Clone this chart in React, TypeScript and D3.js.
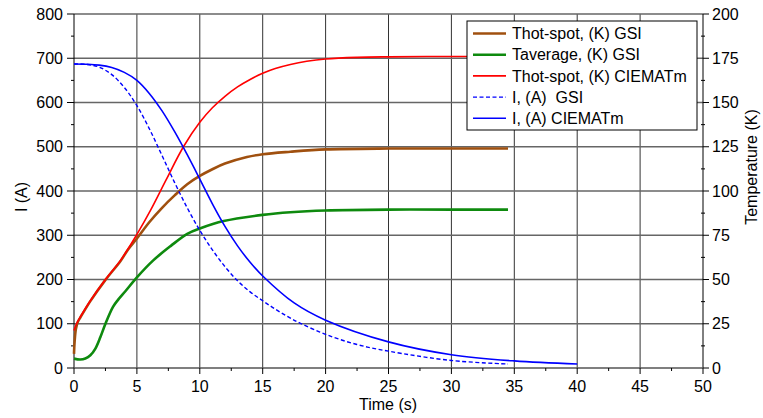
import React from "react";
import * as d3 from "d3";

const W = 763;
const H = 418;

// Temperature series (K), time in s
const tHotGsiT = [0, 0.05, 0.15, 0.3, 0.5, 1.3, 2.5, 3.7, 4.3, 5, 6, 7, 8, 9, 10, 11, 12, 13.75, 15, 17.2, 20, 25, 30, 34.5];
const tHotGsiV = [8, 15, 22, 26, 28.5, 37.8, 49.8, 60.5, 67, 73.2, 82.5, 90.5, 97.5, 103.8, 108.5, 112.3, 115.5, 119.2, 120.8, 122.2, 123.5, 124, 124, 124];

const tAvgGsiT = [0, 0.5, 0.9, 1.3, 1.7, 2.1, 2.5, 3.1, 3.5, 4.1, 5, 6.3, 7.7, 9, 10, 11.9, 15, 17.2, 20, 25, 30, 34.5];
const tAvgGsiV = [5.3, 4.8, 5.4, 7.2, 11, 17.5, 25, 34.5, 38.5, 43.5, 51.2, 60.8, 69, 75.8, 78.8, 83, 86.5, 88, 89, 89.5, 89.5, 89.5];

const tHotCiemT = [0, 0.2, 0.5, 1.3, 2.5, 3.7, 5, 6.1, 7.3, 8.7, 10, 11, 12, 13, 14, 15, 16, 17.2, 18.5, 20, 22.5, 25, 30, 34.5];
const tHotCiemV = [21.2, 25, 28.8, 38, 50, 60.8, 75.5, 89.3, 106, 125, 138.8, 147, 153.5, 158.8, 163, 166.5, 169.2, 171.5, 173.3, 174.6, 175.5, 175.8, 176, 176];

// Current series (A)
const iGsiT = [0, 1, 2, 3, 4, 5, 6, 7, 8, 9, 10, 11, 12, 13, 14, 15, 16, 17, 18, 20, 22.5, 25, 30, 34.5];
const iGsiV = [687, 686, 680, 663, 634, 593, 540, 480, 419, 362, 311, 267, 229, 197, 172, 152, 133, 116, 101, 76, 53, 38, 17, 9];

const iCiemT = [0, 1, 2, 3, 4, 5, 6, 7, 8, 9, 10, 11, 12, 13, 14, 15, 17.5, 20, 25, 30, 35, 40];
const iCiemV = [687, 686.5, 684.5, 679, 668, 650, 620, 581, 534, 482, 427, 371, 320, 276, 239, 208, 147, 108, 59, 30, 16, 9];

const xTicks = [0, 5, 10, 15, 20, 25, 30, 35, 40, 45, 50];
const yLeftTicks = [0, 100, 200, 300, 400, 500, 600, 700, 800];
const yRightTicks = [0, 25, 50, 75, 100, 125, 150, 175, 200];

const legendLabels = [
  "Thot-spot, (K) GSI",
  "Taverage, (K) GSI",
  "Thot-spot, (K) CIEMATm",
  "I, (A)  GSI",
  "I, (A) CIEMATm",
];

const FONT = "'Liberation Sans', Arial, sans-serif";

export default function App() {
  const x = d3.scaleLinear().domain([0, 50]).range([74, 703]);
  const yL = d3.scaleLinear().domain([0, 800]).range([368, 14]);
  const yR = d3.scaleLinear().domain([0, 200]).range([368, 14]);

  const zip = (ts: number[], vs: number[]) => ts.map((t, i) => [t, vs[i]] as [number, number]);

  const curve = d3.curveCatmullRom.alpha(0.5);
  const lineL = d3.line<[number, number]>().x((d) => x(d[0])).y((d) => yL(d[1])).curve(curve);
  const lineR = d3.line<[number, number]>().x((d) => x(d[0])).y((d) => yR(d[1])).curve(curve);

  const series = [
    { d: lineR(zip(tHotGsiT, tHotGsiV)), color: "#A0500F", w: 2.6, dash: undefined },
    { d: lineR(zip(tAvgGsiT, tAvgGsiV)), color: "#0E8A0E", w: 2.6, dash: undefined },
    { d: lineR(zip(tHotCiemT, tHotCiemV)), color: "#FF0000", w: 1.6, dash: undefined },
    { d: lineL(zip(iGsiT, iGsiV)), color: "#0000FF", w: 1.4, dash: "4,2.5" },
    { d: lineL(zip(iCiemT, iCiemV)), color: "#0000FF", w: 1.6, dash: undefined },
  ];

  const xMinor = d3.range(2.5, 50, 5);
  const yLMinor = d3.range(50, 800, 100);

  const legX = 467, legY = 21, legW = 230, legH = 109;

  return (
    <svg width={W} height={H} style={{ position: "absolute", left: 0, top: 0, background: "#fff" }}>
      <rect x={0} y={0} width={W} height={H} fill="#fff" />
      {/* grid */}
      {xTicks.slice(1, -1).map((t) => (
        <line key={"gx" + t} x1={x(t)} x2={x(t)} y1={yL(0)} y2={yL(800)} stroke="#333" strokeWidth={1} />
      ))}
      {yLeftTicks.slice(1).map((v) => (
        <line key={"gy" + v} x1={x(0)} x2={x(50)} y1={yL(v)} y2={yL(v)} stroke="#666" strokeWidth={1.3} />
      ))}
      {/* axes */}
      <line x1={x(0)} x2={x(0)} y1={yL(0)} y2={yL(800)} stroke="#000" strokeWidth={1} />
      <line x1={x(50)} x2={x(50)} y1={yL(0)} y2={yL(800)} stroke="#000" strokeWidth={1} />
      <line x1={x(0)} x2={x(50)} y1={yL(0)} y2={yL(0)} stroke="#555" strokeWidth={1.6} />
      {/* left ticks */}
      {yLeftTicks.map((v) => (
        <g key={"lt" + v}>
          <line x1={67} x2={x(0)} y1={yL(v)} y2={yL(v)} stroke="#000" />
          <text x={63} y={yL(v)} dy="0.35em" textAnchor="end" fontFamily={FONT} fontSize={16} fill="#000">{v}</text>
        </g>
      ))}
      {yLMinor.map((v) => (
        <line key={"lm" + v} x1={71} x2={x(0)} y1={yL(v)} y2={yL(v)} stroke="#000" />
      ))}
      {/* right ticks */}
      {yRightTicks.map((v) => (
        <g key={"rt" + v}>
          <line x1={x(50)} x2={709} y1={yR(v)} y2={yR(v)} stroke="#000" />
          <text x={712} y={yR(v)} dy="0.35em" textAnchor="start" fontFamily={FONT} fontSize={16} fill="#000">{v}</text>
        </g>
      ))}
      {d3.range(12.5, 200, 25).map((v) => (
        <line key={"rm" + v} x1={701} x2={705} y1={yR(v)} y2={yR(v)} stroke="#000" />
      ))}
      {/* bottom ticks */}
      {xTicks.map((t) => (
        <g key={"bt" + t}>
          <line x1={x(t)} x2={x(t)} y1={yL(0)} y2={374} stroke="#000" />
          <text x={x(t)} y={392} textAnchor="middle" fontFamily={FONT} fontSize={16} fill="#000">{t}</text>
        </g>
      ))}
      {xMinor.map((t) => (
        <line key={"bm" + t} x1={x(t)} x2={x(t)} y1={yL(0)} y2={371} stroke="#000" />
      ))}
      {/* series */}
      {series.map((s, i) => (
        <path key={"s" + i} d={s.d || ""} fill="none" stroke={s.color} strokeWidth={s.w} strokeDasharray={s.dash} strokeLinejoin="round" />
      ))}
      {/* axis titles */}
      <text x={388} y={410} textAnchor="middle" fontFamily={FONT} fontSize={16} fill="#000">Time (s)</text>
      <text transform="translate(27,197) rotate(-90)" textAnchor="middle" fontFamily={FONT} fontSize={16} fill="#000">I (A)</text>
      <text transform="translate(757,167) rotate(-90)" textAnchor="middle" fontFamily={FONT} fontSize={16} fill="#000">Temperature (K)</text>
      {/* legend */}
      <rect x={legX} y={legY} width={legW} height={legH} fill="#fff" stroke="#000" strokeWidth={1} />
      {legendLabels.map((lab, i) => {
        const s = series[i];
        const cy = 33.5 + i * 21.2;
        return (
          <g key={"lg" + i}>
            <line x1={473} x2={506} y1={cy} y2={cy} stroke={s.color} strokeWidth={s.w} strokeDasharray={s.dash} />
            <text x={512} y={cy} dy="0.36em" fontFamily={FONT} fontSize={16} fill="#000" style={{ whiteSpace: "pre" }}>{lab}</text>
          </g>
        );
      })}
    </svg>
  );
}
